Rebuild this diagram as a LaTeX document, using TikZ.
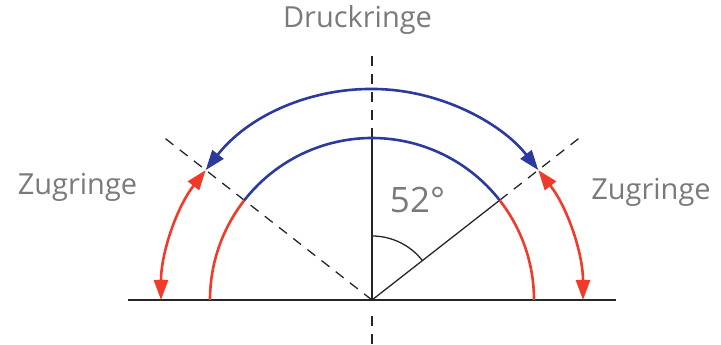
\documentclass[tikz,border=0pt]{standalone}
\usepackage{fontspec}
\setmainfont{Open Sans}
\usetikzlibrary{arrows.meta}
\definecolor{ring}{HTML}{2B3A9C}
\definecolor{zug}{HTML}{F23A2B}
\definecolor{txt}{HTML}{7A7A7A}
\tikzset{
  lbl/.style={text=txt,font=\fontsize{29}{33}\selectfont,inner sep=0pt,anchor=base},
  thin/.style={line width=1.3pt,draw=black!85},
  dsh/.style={thin,dash pattern=on 10pt off 8pt},
  arcb/.style={line width=2.6pt,draw=ring},
  arcr/.style={line width=2.6pt,draw=zug},
  tip/.style={{Triangle[length=20pt,width=14pt]}-{Triangle[length=20pt,width=14pt]}},
}

\begin{document}
\begin{tikzpicture}[x=1pt,y=1pt]
  \useasboundingbox (-372,-45) rectangle (349,300);
  \coordinate (O) at (0,0);
  % axes and guide lines
  \draw[thin] (-244,0) -- (244,0);
  \draw[thin] (O) -- (0,162);
  \draw[dsh] (0,162) -- (0,248);
  \draw[dsh] (0,-16) -- (0,-45);
  \draw[dsh] (O) -- (142:267);
  \draw[thin] (O) -- (38:162);
  \draw[dsh] (38:162) -- (38:267);
  \draw[thin] (0,64) arc[start angle=90,end angle=38,radius=64];
  % inner ring
  \draw[arcr] (-162,0) arc[start angle=180,end angle=142,radius=162];
  \draw[arcb] (142:162) arc[start angle=142,end angle=38,radius=162];
  \draw[arcr] (38:162) arc[start angle=38,end angle=0,radius=162];
  % outer arrows
  \draw[arcb,tip] (142:211) arc[start angle=142,end angle=38,radius=211];
  \draw[arcr,tip] (142:211) arc[start angle=142,end angle=180,radius=211];
  \draw[arcr,tip] (38:211) arc[start angle=38,end angle=0,radius=211];
  % labels
  \node[lbl] (druck) at (-14.5,272) {Druckringe};
  \node[lbl] (zugl) at (-294.5,105) {Zugringe};
  \node[lbl] (zugr) at (279,100) {Zugringe};
  \node[lbl,font=\fontsize{35}{39}\selectfont] (ang) at (45.5,87) {52°};
\end{tikzpicture}
\end{document}
